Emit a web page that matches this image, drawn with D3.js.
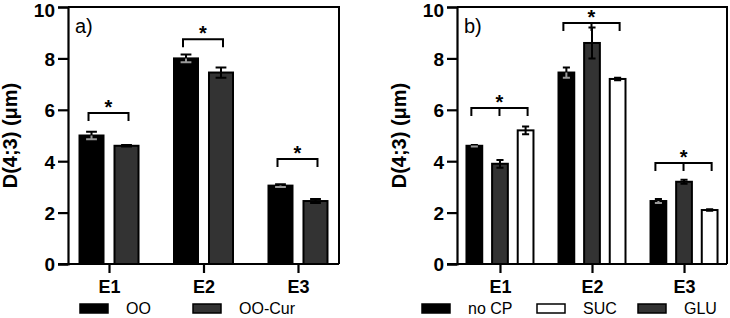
<!DOCTYPE html>
<html>
<head>
<meta charset="utf-8">
<script src="https://cdn.jsdelivr.net/npm/d3@7"></script>
<style>
  body { margin: 0; background: #fff; }
  svg { display: block; font-family: "Liberation Sans", Arial, sans-serif; }
</style>
</head>
<body>
<svg id="chart"></svg>
<script>
// categories and tick labels
const categories = ["E1", "E2", "E3"];
const yTicks = [0, 2, 4, 6, 8, 10];

// panel a)
const seriesA = ["OO", "OO-Cur"];
const valuesA = {
    "OO":     [5.0, 8.0, 3.05],
    "OO-Cur": [4.6, 7.45, 2.45]
};
const errorsA = {
    "OO":     [0.15, 0.15, 0.05],
    "OO-Cur": [0.03, 0.2, 0.08]
};
const bracketLevelA = [5.88, 8.75, 4.09];

// panel b) (bar order differs from legend order)
const seriesB = ["no CP", "GLU", "SUC"];
const legendB = ["no CP", "SUC", "GLU"];
const valuesB = {
    "no CP": [4.6, 7.45, 2.45],
    "GLU":   [3.9, 8.6, 3.2],
    "SUC":   [5.2, 7.2, 2.1]
};
const errorsB = {
    "no CP": [0.03, 0.2, 0.08],
    "GLU":   [0.15, 0.6, 0.08],
    "SUC":   [0.15, 0.05, 0.03]
};
const bracketLevelB = [6.07, 9.38, 3.93];

const fills = { "OO": "#000", "OO-Cur": "#333", "no CP": "#000", "GLU": "#333", "SUC": "#fff" };

const width = 730, height = 318;
const svg = d3.select("#chart").attr("width", width).attr("height", height);

const yScale = d3.scaleLinear().domain([0, 10]).range([264, 7]);

function drawPanel(opt) {
    const g = svg.append("g");

    const x = d3.scalePoint()
        .domain(categories)
        .range([opt.x0, opt.x1])
        .padding(opt.outerPad);

    const inner = d3.scaleBand()
        .domain(opt.series)
        .range([-opt.groupWidth / 2, opt.groupWidth / 2])
        .paddingInner(opt.innerPad);

    // frame (top and right)
    g.append("path")
        .attr("d", `M${opt.x0},${yScale(10)}H${opt.x1}V${yScale(0)}`)
        .attr("fill", "none")
        .attr("stroke", "#000")
        .attr("stroke-width", 2);

    // y axis
    const yAxis = d3.axisLeft(yScale).tickValues(yTicks).tickSize(10).tickPadding(3);
    const ya = g.append("g")
        .attr("transform", `translate(${opt.x0},0)`)
        .call(yAxis);
    ya.select(".domain").attr("stroke-width", 2.2);
    ya.selectAll(".tick line").attr("stroke-width", 2.2);
    ya.selectAll(".tick text")
        .attr("font-size", 19)
        .attr("font-weight", "bold")
        .attr("fill", "#000")
        .attr("dy", d => d === 10 ? "0.52em" : "0.36em")
        .attr("font-family", "Liberation Sans, Arial, sans-serif");

    // x axis
    const xAxis = d3.axisBottom(x).tickSize(9).tickPadding(7).tickSizeOuter(0);
    const xa = g.append("g")
        .attr("transform", `translate(0,${yScale(0)})`)
        .call(xAxis);
    xa.select(".domain").attr("d", `M${opt.x0 - 10},0H${opt.x1}`).attr("stroke-width", 2.2);
    xa.selectAll(".tick line").attr("stroke-width", 2.2);
    xa.selectAll(".tick text")
        .attr("font-size", 18)
        .attr("font-weight", "bold")
        .attr("fill", "#000")
        .attr("font-family", "Liberation Sans, Arial, sans-serif");

    // y axis title
    g.append("text")
        .attr("transform", `translate(${opt.x0 - 51},${(yScale(0) + yScale(10)) / 2}) rotate(-90)`)
        .attr("text-anchor", "middle")
        .attr("font-size", 20)
        .attr("font-weight", "bold")
        .text("D(4;3) (μm)");

    // panel letter
    g.append("text")
        .attr("x", opt.x0 + 7)
        .attr("y", 33)
        .attr("font-size", 20)
        .text(opt.letter);

    // bars
    opt.series.forEach(s => {
        const grp = g.append("g");
        categories.forEach((c, i) => {
            const v = opt.values[s][i];
            const e = opt.errors[s][i];
            const bx = x(c) + inner(s);
            const cx = bx + inner.bandwidth() / 2;
            grp.append("rect")
                .attr("x", bx)
                .attr("y", yScale(v))
                .attr("width", inner.bandwidth())
                .attr("height", yScale(0) - yScale(v))
                .attr("fill", fills[s])
                .attr("stroke", "#000")
                .attr("stroke-width", 2);
            const capW = inner.bandwidth() * 0.45;
            // upper whisker
            grp.append("path")
                .attr("d", `M${cx},${yScale(v)}V${yScale(v + e)}M${cx - capW / 2},${yScale(v + e)}H${cx + capW / 2}`)
                .attr("stroke", "#000")
                .attr("stroke-width", 2)
                .attr("fill", "none");
            // lower whisker
            grp.append("path")
                .attr("d", `M${cx},${yScale(v)}V${yScale(v - e)}M${cx - capW / 2},${yScale(v - e)}H${cx + capW / 2}`)
                .attr("stroke", fills[s] === "#000" ? "#999" : "#000")
                .attr("stroke-width", 2)
                .attr("fill", "none");
        });
    });

    // significance brackets
    categories.forEach((c, i) => {
        const first = opt.series[0], last = opt.series[opt.series.length - 1];
        const xl = x(c) + inner(first) + inner.bandwidth() / 2 - 3;
        const xr = x(c) + inner(last) + inner.bandwidth() / 2 + 2;
        const by = yScale(opt.brackets[i]);
        let d = `M${xl},${by + 8}V${by}H${xr}V${by + 8}`;
        if (opt.series.length === 3) {
            d += `M${(xl + xr) / 2},${by}V${by + 8}`;
        }
        g.append("path")
            .attr("d", d)
            .attr("fill", "none")
            .attr("stroke", "#000")
            .attr("stroke-width", 2);
        g.append("text")
            .attr("x", (xl + xr) / 2)
            .attr("y", by + 1)
            .attr("text-anchor", "middle")
            .attr("font-size", 20)
            .attr("font-weight", "bold")
            .text("*");
    });

    // legend
    opt.legend.forEach((s, i) => {
        const lx = opt.legendX[i];
        g.append("rect")
            .attr("x", lx)
            .attr("y", 304)
            .attr("width", 28)
            .attr("height", 9)
            .attr("fill", fills[s])
            .attr("stroke", "#000")
            .attr("stroke-width", 1.5);
        g.append("text")
            .attr("x", lx + 46)
            .attr("y", 314)
            .attr("font-size", 16)
            .text(s);
    });
}

drawPanel({
    letter: "a)",
    x0: 68, x1: 339,
    outerPad: 0.434,
    groupWidth: 59, innerPad: 0.314,
    series: seriesA, values: valuesA, errors: errorsA,
    brackets: bracketLevelA,
    legend: seriesA, legendX: [80, 193]
});

drawPanel({
    letter: "b)",
    x0: 457, x1: 727,
    outerPad: 0.467,
    groupWidth: 67, innerPad: 0.385,
    series: seriesB, values: valuesB, errors: errorsB,
    brackets: bracketLevelB,
    legend: legendB, legendX: [422, 537, 638]
});
</script>
</body>
</html>
